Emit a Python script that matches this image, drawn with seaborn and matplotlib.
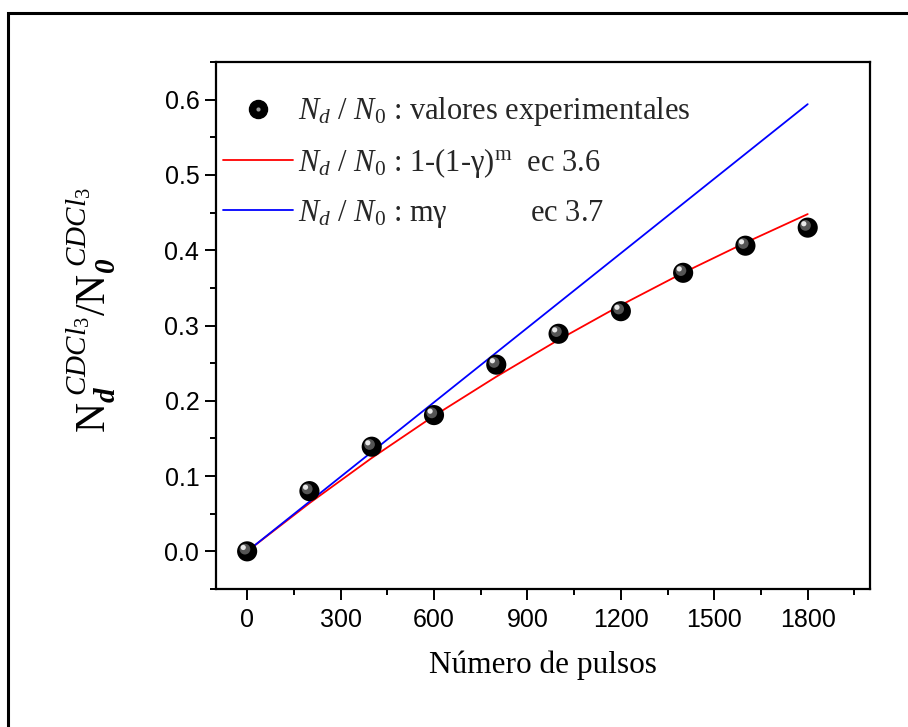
import matplotlib
matplotlib.use("Agg")
import matplotlib.pyplot as plt
import matplotlib.transforms as mtransforms
from matplotlib.patches import Rectangle
from matplotlib.lines import Line2D
from matplotlib.legend_handler import HandlerTuple
from matplotlib.ticker import MultipleLocator
import seaborn as sns
import pandas as pd

# Experimental data: number of pulses vs. fraction of dissociated CDCl3
pulses = [0, 200, 400, 600, 800, 1000, 1200, 1400, 1600, 1800]
frac_exp = [0.0, 0.080, 0.139, 0.181, 0.248, 0.289, 0.319, 0.370, 0.406, 0.430]

# Model curves evaluated at the same pulse counts
frac_eq36 = [0.0, 0.064, 0.124, 0.180, 0.232, 0.281, 0.327, 0.370, 0.410, 0.448]
frac_eq37 = [0.0, 0.066, 0.132, 0.198, 0.264, 0.330, 0.396, 0.462, 0.528, 0.594]

x_ticks = [0, 300, 600, 900, 1200, 1500, 1800]
y_ticks = [0.0, 0.1, 0.2, 0.3, 0.4, 0.5, 0.6]

labels = [
    r"$N_d$ / $N_{\mathit{0}}$ : valores experimentales",
    r"$N_d$ / $N_{\mathit{0}}$ : 1-(1-γ)$^{\mathrm{m}}$  ec 3.6",
    r"$N_d$ / $N_{\mathit{0}}$ : mγ           ec 3.7",
]

df = pd.DataFrame({"pulsos": pulses, "exp": frac_exp,
                   "eq36": frac_eq36, "eq37": frac_eq37})

sns.set_theme(style="ticks")
plt.rcParams["font.family"] = ["Liberation Sans", "DejaVu Sans"]
plt.rcParams["mathtext.fontset"] = "custom"
plt.rcParams["mathtext.rm"] = "Liberation Serif"
plt.rcParams["mathtext.it"] = "Liberation Serif:italic"
plt.rcParams["mathtext.bf"] = "Liberation Serif:bold:italic"

fig = plt.figure(figsize=(9.08, 7.27), dpi=100)
fig.patch.set_facecolor("white")
ax = fig.add_axes([216 / 908, 1 - 589 / 727, 654 / 908, 527 / 727])
ax.set_facecolor("white")

# Model lines
sns.lineplot(data=df, x="pulsos", y="eq36", color="#ff0000", lw=1.3, ax=ax)
sns.lineplot(data=df, x="pulsos", y="eq37", color="#0000ff", lw=1.3, ax=ax)

# Shaded spheres for the experimental points
sns.scatterplot(data=df, x="pulsos", y="exp", s=210, color="black",
                edgecolor="none", ax=ax, zorder=5)
off1 = mtransforms.ScaledTranslation(-1.6 / 72, 1.6 / 72, fig.dpi_scale_trans)
off2 = mtransforms.ScaledTranslation(-2.8 / 72, 2.8 / 72, fig.dpi_scale_trans)
ax.scatter(pulses, frac_exp, s=60, color="#555555", edgecolor="none",
           zorder=6, transform=ax.transData + off1)
ax.scatter(pulses, frac_exp, s=14, color="#e8e8e8", edgecolor="none",
           zorder=7, transform=ax.transData + off2)

ax.set_xlim(-100, 2000)
ax.set_ylim(-0.05, 0.65)
ax.set_xticks(x_ticks)
ax.set_yticks(y_ticks)
ax.xaxis.set_minor_locator(MultipleLocator(150))
ax.yaxis.set_minor_locator(MultipleLocator(0.05))
ax.set_yticklabels([f"{v:.1f}" for v in y_ticks])
ax.tick_params(which="major", direction="out", length=8, width=1.4,
               labelsize=18, color="black", labelcolor="black")
ax.tick_params(axis="x", which="major", pad=6)
ax.tick_params(axis="y", which="major", pad=4)
ax.tick_params(which="minor", direction="out", length=4.5, width=1.4,
               color="black")
ax.tick_params(top=False, right=False, which="both")
for sp in ax.spines.values():
    sp.set_visible(True)
    sp.set_linewidth(1.6)
    sp.set_color("black")

ax.set_xlabel("Número de pulsos", fontsize=22.5, family="Liberation Serif",
              color="black")
ax.xaxis.set_label_coords(0.5, -0.117)
ax.set_ylabel(r"$\mathrm{N}_{\mathbf{d}}^{\ \mathit{CDCl}_{\mathit{3}}}/"
              r"\mathrm{N}_{\mathbf{0}}^{\ \mathit{CDCl}_{\mathit{3}}}$",
              fontsize=30, color="black")
ax.yaxis.set_label_coords(-0.15, 0.53)

# Legend
sphere = (Line2D([], [], ls="none", marker="o", ms=13, mfc="black", mec="black"),
          Line2D([], [], ls="none", marker="o", ms=3, mfc="#9a9a9a", mec="none"))
red = Line2D([], [], color="#ff0000", lw=1.3)
blue = Line2D([], [], color="#0000ff", lw=1.3)
leg = ax.legend([sphere, red, blue], labels, loc="upper left",
                bbox_to_anchor=(-0.008, 0.96), frameon=False,
                handler_map={tuple: HandlerTuple(ndivide=1)},
                prop={"family": "Liberation Serif", "size": 22},
                handlelength=2.3, handletextpad=0.15, labelspacing=0.58,
                borderaxespad=0.2, borderpad=0.2)

# Outer frame around the figure
fig.patches.append(Rectangle((8 / 908, -0.2), 1.2, 1 - 13 / 727 + 0.2,
                             transform=fig.transFigure, fill=False,
                             edgecolor="black", lw=2.2, clip_on=False))

fig.savefig("out.png", dpi=100)
